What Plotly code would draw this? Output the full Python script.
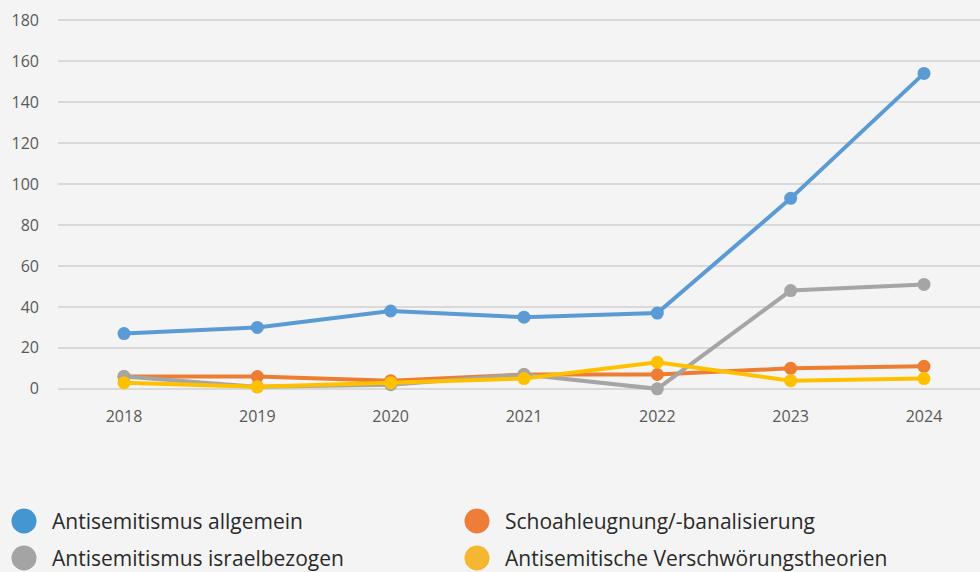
import plotly.graph_objects as go

years = ["2018", "2019", "2020", "2021", "2022", "2023", "2024"]
series_names = [
    "Antisemitismus allgemein",
    "Schoahleugnung/-banalisierung",
    "Antisemitismus israelbezogen",
    "Antisemitische Verschwörungstheorien",
]
allgemein = [27, 30, 38, 35, 37, 93, 154]
schoah = [6, 6, 4, 7, 7, 10, 11]
israel = [6, 1, 2, 7, 0, 48, 51]
verschwoerung = [3, 1, 3, 5, 13, 4, 5]
y_ticks = [0, 20, 40, 60, 80, 100, 120, 140, 160, 180]

values = [allgemein, schoah, israel, verschwoerung]
line_colors = ["#5b9bd5", "#ed7d31", "#a5a5a5", "#ffc000"]
legend_colors = ["#4396cf", "#ef7d3a", "#a4a4a4", "#f5b731"]

W, H = 980, 572
ml, mr, mt, mb = 58, 0, 14, 177

fig = go.Figure()
for name, vals, col in zip(series_names, values, line_colors):
    fig.add_trace(go.Scatter(
        x=years, y=vals, name=name, mode="lines+markers",
        line=dict(color=col, width=4),
        marker=dict(color=col, size=13),
        cliponaxis=False, showlegend=False,
    ))

plot_w = W - ml - mr
plot_h = H - mt - mb

def px_x(X):
    return (X - ml) / plot_w

def px_y(Y):
    return (H - mb - Y) / plot_h

# custom legend: 2 columns x 2 rows, order as in reference
legend_pos = [(24, 521), (477, 521), (24, 558), (477, 558)]
shapes = []
annotations = []
for name, col, (cx, cy) in zip(series_names, legend_colors, legend_pos):
    shapes.append(dict(
        type="circle", xref="paper", yref="paper",
        xsizemode="pixel", ysizemode="pixel",
        xanchor=px_x(cx), yanchor=px_y(cy),
        x0=-12.5, x1=12.5, y0=-12.5, y1=12.5,
        fillcolor=col, line=dict(width=0),
    ))
    annotations.append(dict(
        text=name, xref="paper", yref="paper",
        x=px_x(cx + 26), y=px_y(cy), xanchor="left", yanchor="middle",
        showarrow=False,
        font=dict(family="Open Sans, sans-serif", size=21, color="#2a2a2a"),
    ))

fig.update_layout(
    width=W, height=H,
    margin=dict(l=ml, r=mr, t=mt, b=mb),
    paper_bgcolor="#f4f4f4", plot_bgcolor="#f4f4f4",
    shapes=shapes, annotations=annotations,
    xaxis=dict(
        type="category", range=[-0.495, 6.42],
        showgrid=False, zeroline=False, showline=False,
        ticks="", ticklabelstandoff=10,
        tickfont=dict(family="Open Sans, sans-serif", size=16, color="#595959"),
    ),
    yaxis=dict(
        range=[-3, 183], tickvals=y_ticks,
        showgrid=True, gridcolor="#d9d9d9", gridwidth=1.5,
        zeroline=False, showline=False, ticks="",
        ticklabelstandoff=18,
        tickfont=dict(family="Open Sans, sans-serif", size=16, color="#595959"),
    ),
)

fig.write_html(
    "out.html",
    config={"displayModeBar": False},
    post_script="document.body.style.margin='0';document.body.style.background='#f4f4f4';document.body.style.overflow='hidden';",
)
